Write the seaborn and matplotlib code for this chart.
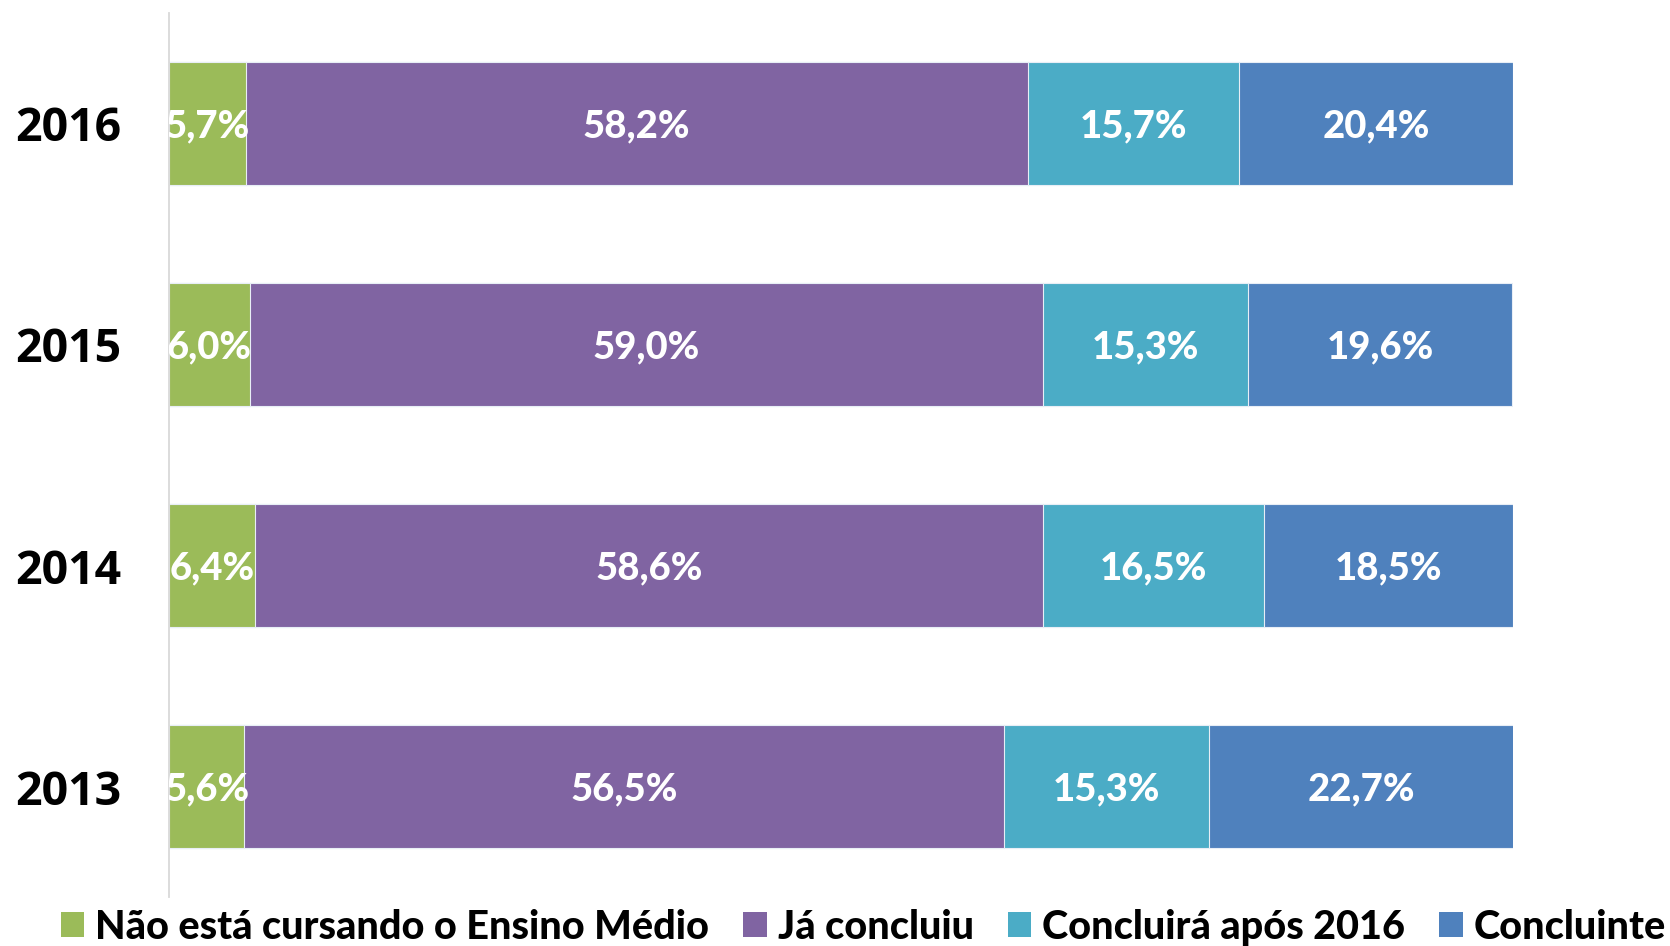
import matplotlib
matplotlib.use("Agg")
import matplotlib.pyplot as plt
from matplotlib.patches import Patch
from matplotlib.font_manager import FontProperties
import numpy as np
import pandas as pd
import seaborn as sns

years = ["2016", "2015", "2014", "2013"]
series_names = ["Não está cursando o Ensino Médio", "Já concluiu", "Concluirá após 2016", "Concluinte"]
nao_cursando = [5.7, 6.0, 6.4, 5.6]
ja_concluiu = [58.2, 59.0, 58.6, 56.5]
concluira = [15.7, 15.3, 16.5, 15.3]
concluinte = [20.4, 19.6, 18.5, 22.7]
colors = ["#9BBB59", "#8064A2", "#4BACC6", "#4F81BD"]

series = [nao_cursando, ja_concluiu, concluira, concluinte]

sns.set_style("white")
plt.rcParams["font.family"] = ["Lato", "DejaVu Sans"]

fig = plt.figure(figsize=(16.7, 9.46), dpi=100)
ax = fig.add_axes([169 / 1670, 1 - 897 / 946, (1513 - 169) / 1670, (897 - 13) / 946])

vals = np.array(series)
cum = np.cumsum(vals, axis=0)
# draw cumulative bars from the longest to the shortest so each segment shows
for i in range(len(series) - 1, -1, -1):
    df = pd.DataFrame({"ano": years, "valor": cum[i]})
    sns.barplot(data=df, x="valor", y="ano", order=years, orient="h",
                color=colors[i], saturation=1, width=0.56,
                edgecolor="#E8EEF6", linewidth=0.8, ax=ax, zorder=2)

starts = cum - vals
for i in range(len(series)):
    for j, y in enumerate(years):
        xc = starts[i, j] + vals[i, j] / 2
        ax.text(xc, j, f"{vals[i, j]:.1f}".replace(".", ",") + "%",
                ha="center", va="center_baseline", color="white", fontsize=27.5,
                fontweight="black", clip_on=True, zorder=5)

ax.set_xlim(0, 100)
ax.set_ylim(3.5, -0.5)
ax.set_xlabel("")
ax.set_ylabel("")
ax.set_xticks([])
for s in ["top", "right", "bottom"]:
    ax.spines[s].set_visible(False)
ax.spines["left"].set_color("#D9D9D9")
ax.spines["left"].set_linewidth(1.3)

ax.set_yticks(range(len(years)))
year_fp = FontProperties(family=["Open Sans", "DejaVu Sans"], weight="bold", size=33.5)
ax.set_yticklabels(years)
for lab in ax.get_yticklabels():
    lab.set_fontproperties(year_fp)
    lab.set_color("black")
    lab.set_verticalalignment("center_baseline")
ax.tick_params(axis="y", which="major", length=0, pad=34)
ax.set_yticks(np.arange(-0.5, len(years) + 0.5, 1), minor=True)
ax.tick_params(axis="y", which="minor", length=11, width=1.3, color="#D9D9D9", direction="out")

handles = [Patch(facecolor=c, edgecolor="none") for c in colors]
leg = fig.legend(handles, series_names, ncol=4, loc="center",
                 bbox_to_anchor=(0.517, 1 - 927 / 946), frameon=False,
                 prop={"family": ["Lato", "DejaVu Sans"], "weight": "black", "size": 28.5},
                 handlelength=0.6, handleheight=0.6, handletextpad=0.28,
                 columnspacing=0.85, borderpad=0, borderaxespad=0)
for t in leg.get_texts():
    t.set_color("black")

fig.savefig("out.png", dpi=100)
